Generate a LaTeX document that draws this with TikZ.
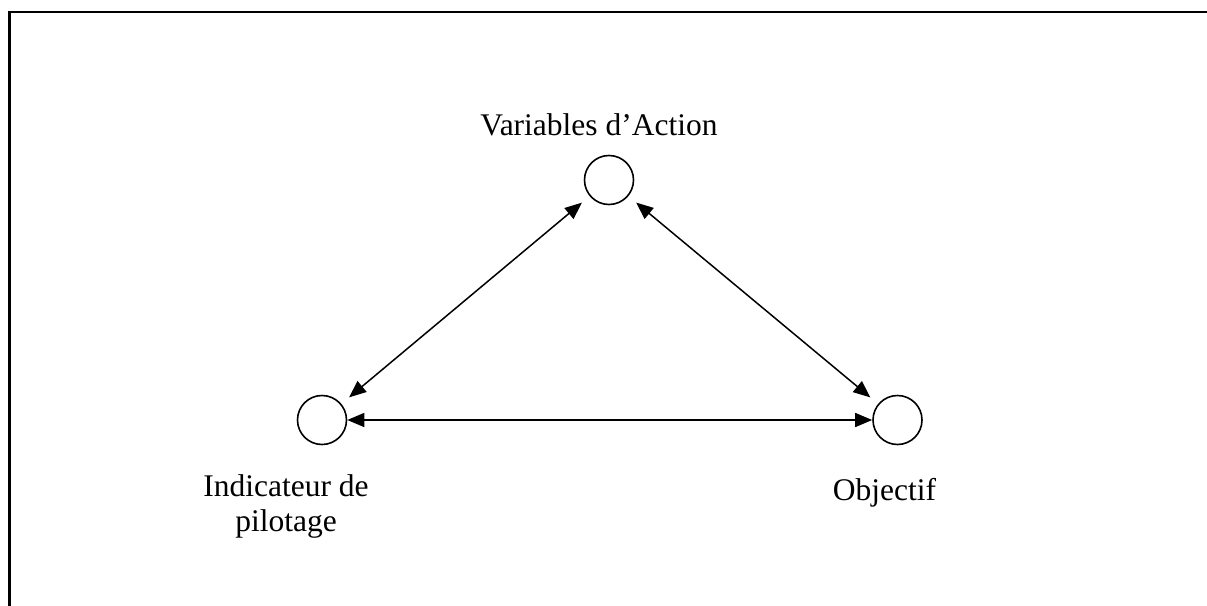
\documentclass[tikz,border=0pt]{standalone}
\usepackage{fontspec}
\setmainfont{Liberation Serif}
\usetikzlibrary{arrows.meta}
\begin{document}
\begin{tikzpicture}[x=1pt,y=-1pt,
  state/.style={circle,draw,line width=1.6pt,minimum size=49pt,inner sep=0pt},
  lbl/.style={font=\fontsize{31.5}{35}\selectfont,inner sep=0pt,align=center},
  link/.style={line width=1.5pt,{Triangle[length=17pt,width=14pt]}-{Triangle[length=17pt,width=14pt]}},
  gap/.style={shorten <=10pt,shorten >=10pt}]
\useasboundingbox (0,0) rectangle (1207,605);
\draw[line width=2.4pt] (9.5,606) -- (9.5,12) -- (1208,12);
\node[state] (T) at (609,180) {};
\node[state] (L) at (322,420) {};
\node[state] (R) at (897.5,420) {};
\node[lbl,anchor=base] (tT) at (599,135) {Variables d’Action};
\node[lbl,anchor=base] (tL) at (286,531) {Indicateur de\\pilotage};
\node[lbl,anchor=base] (tR) at (884.5,500) {Objectif};
\draw[link,gap] (T) -- (L);
\draw[link,gap] (T) -- (R);
\draw[link] (L) -- (R);
\end{tikzpicture}
\end{document}
